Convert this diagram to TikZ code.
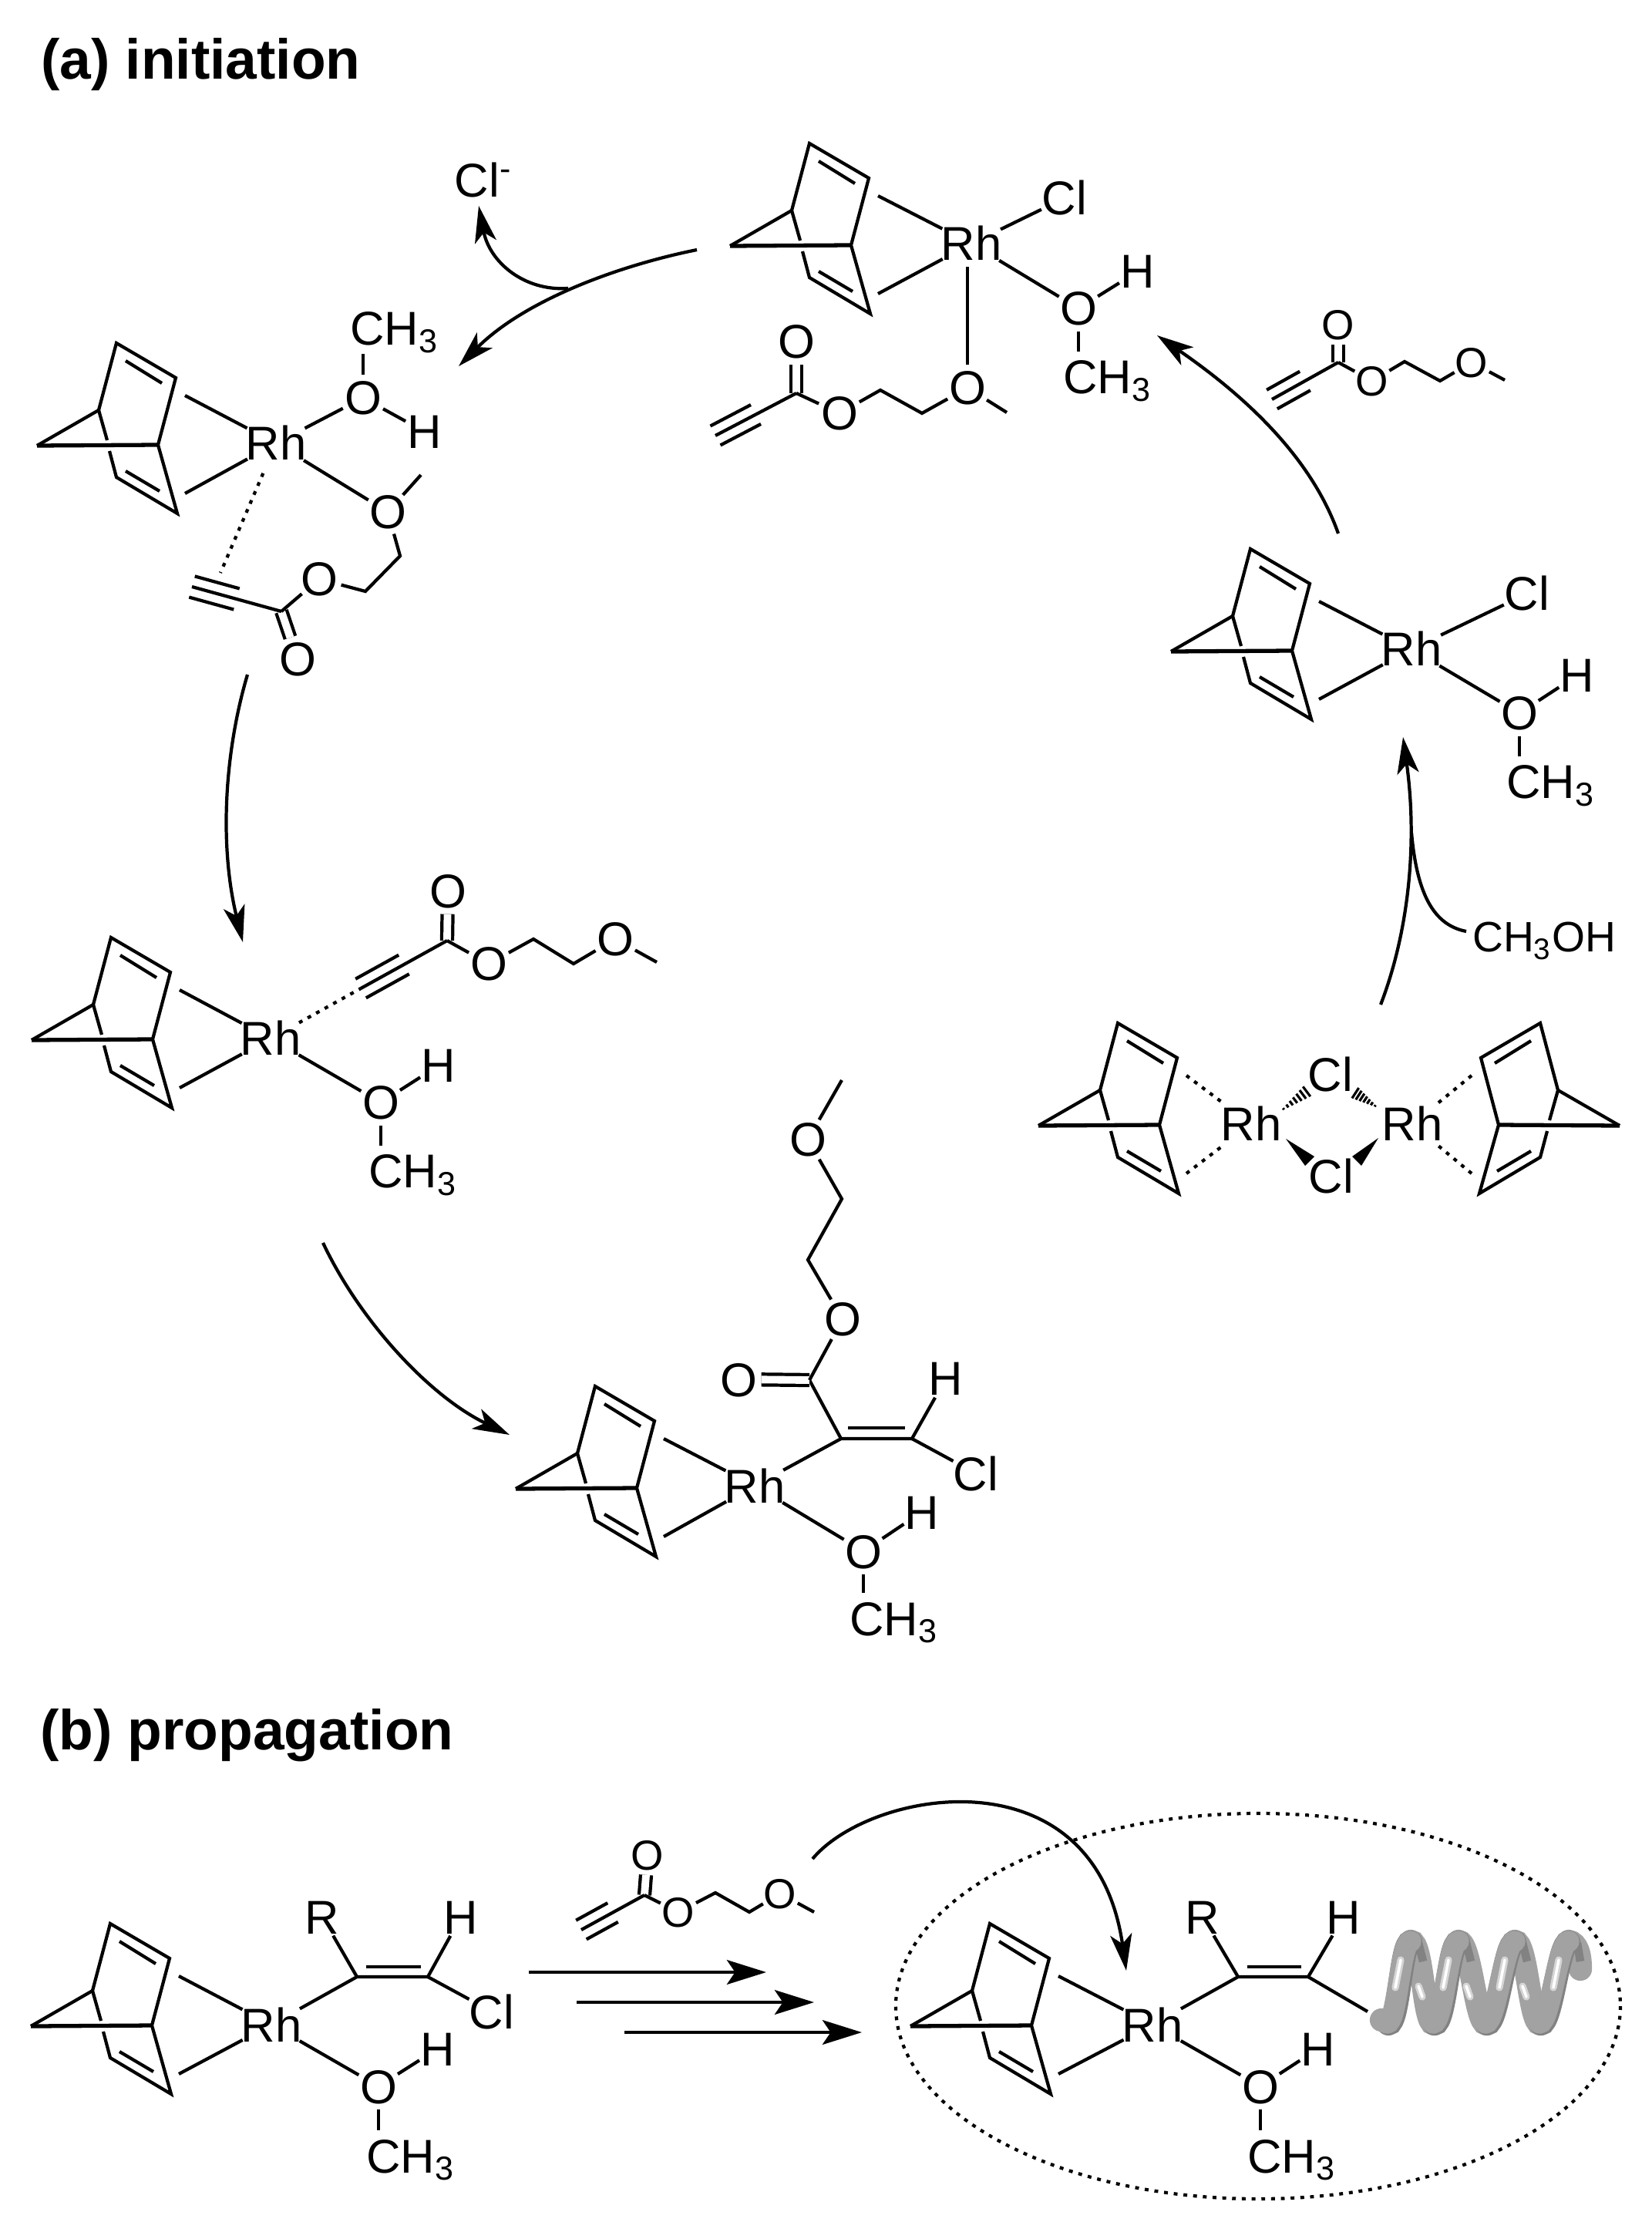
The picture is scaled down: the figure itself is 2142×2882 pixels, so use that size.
\documentclass[tikz,border=0pt]{standalone}
\usepackage{fontspec}
\setmainfont{Liberation Sans}
\usetikzlibrary{calc}
\usetikzlibrary{arrows.meta}
\definecolor{helixgray}{RGB}{162,162,162}
\definecolor{helixdark}{RGB}{130,130,130}

\tikzset{
  atom/.style={circle,inner sep=-1pt,text height=12.5pt,text depth=0pt,font=\fontsize{17.5}{19}\selectfont},
  satom/.style={atom,text height=11.1pt,font=\fontsize{15.5}{17}\selectfont},
  methyl/.style={rectangle,anchor=west,inner xsep=0pt,inner ysep=2.5pt,text height=12.5pt,text depth=0pt,font=\fontsize{17.5}{19}\selectfont},
  title/.style={anchor=base west,inner sep=0pt,font=\fontsize{20.8}{24}\selectfont\bfseries},
  dblbond/.style={double,double distance=2.8pt},
  dotbond/.style={dash pattern=on 1.4pt off 2.2pt},
  arr/.style={-{Stealth[length=13.5pt,width=8pt,inset=3.5pt]}},
  bigarr/.style={-{Stealth[length=14.5pt,width=9pt,inset=3pt]},line width=1.4pt},
  tube/.style={line width=8.6pt,line cap=round},
  shine/.style={line cap=round,line width=2.6pt,helixgray!45!white},
  shinecore/.style={line cap=round,line width=1pt,white},
  nbd/.pic={
    \coordinate (-a) at (-54,-132);
    \coordinate (-b) at (23,-87);
    \coordinate (-c) at (0,0);
    \coordinate (-d) at (25,89);
    \coordinate (-e) at (-54,42);
    \coordinate (-f) at (-77,-45);
    \coordinate (-g) at (-157,1);
    \coordinate (-p) at (35,-64);
    \coordinate (-q) at (35,63);
    \draw (-f) -- (-a) -- (-b) -- (-c) -- (-d) -- (-e) -- (-63,8);
    \draw (-f) -- (-66,-6);
    \draw (-f) -- (-g);
    \draw [line width=1.5pt] (-g) -- (-c);
    \draw (-42,-109) -- (5,-80);
    \draw (-42,34) -- (2,60);
  }
}

\newcommand{\triplebond}[2]{
  \draw (#1) -- (#2);
  \draw ($(#2)!4pt!90:(#1)$) -- ($($(#2)!.5!(#1)$)!4pt!90:(#1)$);
  \draw ($(#2)!4pt!-90:(#1)$) -- ($($(#2)!.5!(#1)$)!4pt!-90:(#1)$);
}
\newcommand{\hashbond}[2]{
  \foreach \f in {0,.125,...,1} {
    \draw [line width=.9pt] ($(#1)!\f!(#2)!{\f*2.6pt}!90:(#2)$) -- ($(#1)!\f!(#2)!{\f*2.6pt}!-90:(#2)$);
  }
}

\begin{document}
\begin{tikzpicture}[x=0.01cm,y=-0.01cm,line width=1.2pt]
  \useasboundingbox (0,0) rectangle (2142,2882);

  \node [title] (titlea) at (51,103) {(a) initiation};
  \node [title] (titleb) at (50,2269) {(b) propagation};

  % top complex
  \pic (nbda) at (1104,318) {nbd};
  \node [atom] (rha) at (1260,316) {Rh};
  \node [atom] (cla) at (1381,257) {Cl};
  \node [atom] (oa) at (1399,400) {O};
  \node [atom] (ha) at (1476,352) {H};
  \node [methyl] (mea) at (1377,489) {CH\textsubscript{3}};
  \node [atom] (oa2) at (1255,503) {O};
  \node [atom] (oa3) at (1089,536) {O};
  \node [atom] (oa4) at (1033,443) {O};
  \coordinate (enda) at (1306,535);
  \coordinate (cha) at (1196,536);
  \coordinate (cha2) at (1142,506);
  \coordinate (coa) at (1033,510);
  \coordinate (tipa) at (928,565);
  \draw (nbda-p) -- (rha);
  \draw (nbda-q) -- (rha);
  \draw (rha) -- (cla);
  \draw (rha) -- (oa);
  \draw (oa) -- (ha);
  \draw (oa) -- (oa |- mea.north);
  \draw [shorten >=-3.5pt] (oa2) -- (oa2 |- rha.south);
  \draw (oa2) -- (enda);
  \draw [dblbond] (coa) -- (oa4);
  \draw (oa2) -- (cha) -- (cha2) -- (oa3);
  \draw (oa3) -- (coa);
  \triplebond{coa}{tipa}

  % upper left complex
  \pic (nbdb) at (205,577) {nbd};
  \node [atom] (rhb) at (358,575) {Rh};
  \node [atom] (ob) at (471,516) {O};
  \node [atom] (hb) at (551,560) {H};
  \node [methyl] (meb) at (452,426) {CH\textsubscript{3}};
  \node [atom] (ob2) at (503,664) {O};
  \node [atom] (ob3) at (414,751) {O};
  \node [atom] (ob4) at (386,855) {O};
  \coordinate (endb) at (546,616);
  \coordinate (chb) at (519,721);
  \coordinate (chb2) at (474,767);
  \coordinate (cob) at (365,793);
  \coordinate (tipb) at (249,761);
  \coordinate (dotb) at (286,743);
  \draw (nbdb-p) -- (rhb);
  \draw (nbdb-q) -- (rhb);
  \draw (rhb) -- (ob);
  \draw (ob) -- (hb);
  \draw (ob) -- (ob |- meb.south);
  \draw (rhb) -- (ob2);
  \draw (ob2) -- (endb);
  \draw [dblbond] (cob) -- (ob4);
  \draw (ob2) -- (chb) -- (chb2) -- (ob3);
  \draw (ob3) -- (cob);
  \triplebond{cob}{tipb}
  \draw [dotbond] (rhb) -- (dotb);

  % middle left complex
  \pic (nbdc) at (198,1348) {nbd};
  \node [atom] (rhc) at (351,1347) {Rh};
  \node [atom] (oc) at (494,1430) {O};
  \node [atom] (hc) at (569,1382) {H};
  \node [methyl] (mec) at (476,1519) {CH\textsubscript{3}};
  \node [atom] (oc2) at (581,1156) {O};
  \node [atom] (oc3) at (634,1250) {O};
  \node [atom] (oc4) at (798,1218) {O};
  \coordinate (coc) at (580,1220);
  \coordinate (tipc) at (468,1282);
  \coordinate (chc) at (692,1218);
  \coordinate (chc2) at (744,1250);
  \coordinate (endc) at (852,1248);
  \draw (nbdc-p) -- (rhc);
  \draw (nbdc-q) -- (rhc);
  \draw (rhc) -- (oc);
  \draw (oc) -- (hc);
  \draw (oc) -- (oc |- mec.north);
  \draw [dblbond] (coc) -- (oc2);
  \draw (coc) -- (oc3);
  \draw (oc3) -- (chc) -- (chc2) -- (oc4);
  \draw (oc4) -- (endc);
  \triplebond{coc}{tipc}
  \draw [dotbond] (rhc) -- (tipc);

  % bottom complex of the cycle
  \pic (nbdd) at (826,1930) {nbd};
  \node [atom] (rhd) at (979,1927) {Rh};
  \node [atom] (od) at (1120,2012) {O};
  \node [atom] (hd) at (1196,1961) {H};
  \node [methyl] (med) at (1100,2099) {CH\textsubscript{3}};
  \node [atom] (cld) at (1266,1911) {Cl};
  \node [atom] (hd2) at (1227,1788) {H};
  \node [atom] (od2) at (958,1789) {O};
  \node [atom] (od3) at (1093,1711) {O};
  \node [atom] (od4) at (1048,1478) {O};
  \coordinate (cad) at (1091,1866);
  \coordinate (cbd) at (1183,1866);
  \coordinate (cod) at (1050,1790);
  \coordinate (chd) at (1048,1634);
  \coordinate (chd2) at (1092,1555);
  \coordinate (endd) at (1092,1401);
  \draw (nbdd-p) -- (rhd);
  \draw (nbdd-q) -- (rhd);
  \draw (rhd) -- (od);
  \draw (od) -- (hd);
  \draw (od) -- (od |- med.north);
  \draw (rhd) -- (cad) -- (cbd);
  \draw (1100,1852) -- (1174,1852);
  \draw (cbd) -- (hd2);
  \draw (cbd) -- (cld);
  \draw (cad) -- (cod);
  \draw [dblbond] (cod) -- (od2);
  \draw (cod) -- (od3);
  \draw (od3) -- (chd) -- (chd2) -- (od4);
  \draw (od4) -- (endd);

  % dimer
  \pic (nbde) at (1504,1459) {nbd};
  \pic [xscale=-1] (nbdf) at (1944,1459) {nbd};
  \node [atom] (rhe) at (1623,1458) {Rh};
  \node [atom] (rhf) at (1832,1458) {Rh};
  \node [atom] (cle) at (1726,1394) {Cl};
  \node [atom] (clf) at (1727,1526) {Cl};
  \draw [dotbond] (nbde-p) -- (rhe);
  \draw [dotbond] (nbde-q) -- (rhe);
  \draw [dotbond] (nbdf-p) -- (rhf);
  \draw [dotbond] (nbdf-q) -- (rhf);
  \coordinate (hashe) at (1660,1442);
  \coordinate (hashe2) at (1700,1412);
  \coordinate (hashf) at (1788,1437);
  \coordinate (hashf2) at (1754,1415);
  \hashbond{hashe}{hashe2}
  \hashbond{hashf}{hashf2}
  \coordinate (wedgee) at (1668,1477);
  \coordinate (wedgef) at (1788,1476);
  \fill (wedgee) -- (1693,1512) -- (1705,1500) -- cycle;
  \fill (wedgef) -- (1754,1500) -- (1766,1512) -- cycle;

  % right complex
  \pic (nbdg) at (1676,844) {nbd};
  \node [atom] (rhg) at (1831,842) {Rh};
  \node [atom] (clg) at (1981,770) {Cl};
  \node [atom] (og) at (1971,925) {O};
  \node [atom] (hg) at (2046,876) {H};
  \node [methyl] (meg) at (1952,1014) {CH\textsubscript{3}};
  \draw (nbdg-p) -- (rhg);
  \draw (nbdg-q) -- (rhg);
  \draw (rhg) -- (clg);
  \draw (rhg) -- (og);
  \draw (og) -- (hg);
  \draw (og) -- (og |- meg.north);

  % free monomer, upper right
  \node [satom] (om) at (1736,421) {O};
  \node [satom] (om2) at (1780,494) {O};
  \node [satom] (om3) at (1909,470) {O};
  \coordinate (com) at (1736,470);
  \coordinate (tipm) at (1650,518);
  \coordinate (chm) at (1822,469);
  \coordinate (chm2) at (1868,494);
  \coordinate (endm) at (1952,493);
  \draw [dblbond] (com) -- (om);
  \draw (com) -- (om2);
  \draw (om2) -- (chm) -- (chm2) -- (om3);
  \draw (om3) -- (endm);
  \triplebond{com}{tipm}

  % methanol and chloride
  \node [methyl,font=\fontsize{15.7}{17}\selectfont] (meoh) at (1908,1213) {CH\textsubscript{3}OH};
  \node [atom] (cli) at (627,234) {Cl\textsuperscript{-}};

  % cycle arrows
  \coordinate (startab) at (904,324);
  \coordinate (tipab) at (595,475);
  \coordinate (startcl) at (737,374);
  \coordinate (tipcl) at (621,267);
  \coordinate (startbc) at (321,875);
  \coordinate (tipbc) at (315,1222);
  \coordinate (startcd) at (419,1612);
  \coordinate (tipcd) at (661,1861);
  \coordinate (startfg) at (1791,1303);
  \coordinate (tipfg) at (1820,956);
  \coordinate (startoh) at (1902,1208);
  \coordinate (endoh) at (1831,1080);
  \coordinate (startga) at (1736,692);
  \coordinate (tipga) at (1501,435);
  \draw [arr] (startab) .. controls (800,345) and (680,390) .. (tipab);
  \draw [arr] (startcl) .. controls (680,378) and (635,340) .. (tipcl);
  \draw [arr] (startbc) .. controls (290,980) and (285,1100) .. (tipbc);
  \draw [arr] (startcd) .. controls (465,1710) and (555,1810) .. (tipcd);
  \draw [arr] (startfg) .. controls (1825,1215) and (1840,1100) .. (tipfg);
  \draw (startoh) .. controls (1860,1200) and (1838,1160) .. (endoh);
  \draw [arr] (startga) .. controls (1700,590) and (1610,510) .. (tipga);

  % propagation, left
  \pic (nbdh) at (197,2627) {nbd};
  \node [atom] (rhh) at (352,2626) {Rh};
  \node [atom] (rh) at (418,2486) {R};
  \node [atom] (hh) at (598,2486) {H};
  \node [atom] (clh) at (638,2609) {Cl};
  \node [atom] (oh) at (491,2706) {O};
  \node [atom] (hh2) at (568,2657) {H};
  \node [methyl] (meh) at (473,2796) {CH\textsubscript{3}};
  \coordinate (cah) at (463,2564);
  \coordinate (cbh) at (555,2564);
  \draw (nbdh-p) -- (rhh);
  \draw (nbdh-q) -- (rhh);
  \draw (rhh) -- (cah) -- (cbh);
  \draw (475,2551) -- (546,2551);
  \draw (cah) -- (rh);
  \draw (cbh) -- (hh);
  \draw (cbh) -- (clh);
  \draw (rhh) -- (oh);
  \draw (oh) -- (hh2);
  \draw (oh) -- (oh |- meh.north);

  % monomer over the arrows
  \node [satom] (on) at (840,2406) {O};
  \node [satom] (on2) at (880,2480) {O};
  \node [satom] (on3) at (1012,2456) {O};
  \coordinate (con) at (836,2458);
  \coordinate (tipn) at (754,2503);
  \coordinate (chn) at (928,2455);
  \coordinate (chn2) at (972,2480);
  \coordinate (endn) at (1056,2480);
  \draw [dblbond] (con) -- (on);
  \draw (con) -- (on2);
  \draw (on2) -- (chn) -- (chn2) -- (on3);
  \draw (on3) -- (endn);
  \triplebond{con}{tipn}

  % the three reaction arrows
  \foreach \x/\y in {686/2558,748/2597,810/2636} {
    \draw [bigarr] (\x,\y) -- ++(308,0);
  }

  % propagation, right
  \draw [dotbond] (1632,2602) ellipse [x radius=470,y radius=250];
  \pic (nbdi) at (1338,2627) {nbd};
  \node [atom] (rhi) at (1495,2626) {Rh};
  \node [atom] (ri) at (1560,2486) {R};
  \node [atom] (hi) at (1743,2486) {H};
  \node [atom] (oi) at (1635,2706) {O};
  \node [atom] (hi2) at (1710,2657) {H};
  \node [methyl] (mei) at (1616,2796) {CH\textsubscript{3}};
  \coordinate (cai) at (1606,2564);
  \coordinate (cbi) at (1697,2564);
  \coordinate (helixi) at (1774,2609);
  \draw (nbdi-p) -- (rhi);
  \draw (nbdi-q) -- (rhi);
  \draw (rhi) -- (cai) -- (cbi);
  \draw (1618,2551) -- (1688,2551);
  \draw (cai) -- (ri);
  \draw (cbi) -- (hi);
  \draw (cbi) -- (helixi);
  \draw (rhi) -- (oi);
  \draw (oi) -- (hi2);
  \draw (oi) -- (oi |- mei.north);

  % helix
  \foreach \t/\n in {1830/1860,1892/1928,1965/1998} {
    \draw [tube,helixgray] (\t,2518) .. controls (\t+16,2518) and (\n-14,2625) .. (\n,2625);
    \draw [line width=3pt,helixdark] (\t+10,2520) -- (\t+16,2544);
    \draw [shine] (\t+10,2576) -- (\t+15,2590);
    \draw [shinecore] (\t+10,2576) -- (\t+15,2590);
  }
  \draw [tube,helixgray] (2035,2518) .. controls (2046,2520) and (2050,2535) .. (2050,2554);
  \draw [line width=3pt,helixdark] (2046,2520) -- (2050,2544);
  \foreach \b/\t in {1800/1830,1860/1892,1928/1965,1998/2035} {
    \draw [tube,helixdark] (\b+1,2625) .. controls (\b+15,2625) and (\t-13,2519) .. (\t,2519);
    \draw [tube,helixgray,line width=7.8pt] (\b-1,2624) .. controls (\b+13,2624) and (\t-14,2518) .. (\t,2518);
    \draw [shine] (\t-13,2542) -- (\t-20,2578);
    \draw [shinecore] (\t-13,2542) -- (\t-20,2578);
  }
  \draw [tube,helixgray] (1792,2620) -- (1800,2622);

  % curved arrow into the dotted ellipse
  \coordinate (startp) at (1054,2411);
  \coordinate (tipp) at (1461,2556);
  \draw [arr] (startp) .. controls (1130,2320) and (1420,2270) .. (tipp);
\end{tikzpicture}
\end{document}
